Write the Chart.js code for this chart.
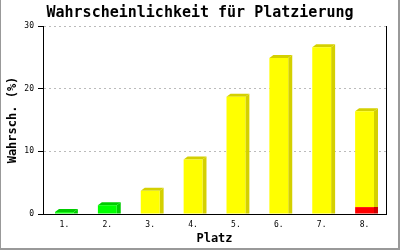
<!DOCTYPE html>
<html>
<head>
<meta charset="utf-8">
<script src="https://cdn.jsdelivr.net/npm/chart.js@4/dist/chart.umd.min.js"></script>
<style>
  html, body { margin: 0; padding: 0; background: #fff; }
  #wrap { width: 400px; height: 250px; position: relative; }
</style>
</head>
<body>
<div id="wrap"><canvas id="platz"></canvas></div>
<script>
// Daten
const plaetze = ["1.", "2.", "3.", "4.", "5.", "6.", "7.", "8."];
const rotAnteil = [0, 0, 0, 0, 0, 0, 0, 1.1];
const restAnteil = [0.3, 1.4, 3.7, 8.7, 18.7, 24.9, 26.6, 15.3];
const restFarben = ["#00ff00", "#00ff00", "#ffff00", "#ffff00", "#ffff00", "#ffff00", "#ffff00", "#ffff00"];
const yTicks = [0, 10, 20, 30];

const MONO = "'DejaVu Sans Mono', monospace";

function dunkler(c) {
  if (c == "#00ff00") return "#00cc00";
  if (c == "#ff0000") return "#cc0000";
  return "#d4d000";
}

// 3D Seiten und Deckel hinter den Balken
const dreiD = {
  id: "dreiD",
  beforeDatasetsDraw(chart) {
    const ctx = chart.ctx;
    const dx = 4, dy = 3;
    chart.data.datasets.forEach((ds, di) => {
      const meta = chart.getDatasetMeta(di);
      meta.data.forEach((bar, i) => {
        if (!ds.data[i]) return;
        const p = bar.getProps(["x", "y", "base", "width"], true);
        const l = p.x - p.width / 2, r = p.x + p.width / 2;
        const col = dunkler(Array.isArray(ds.backgroundColor) ? ds.backgroundColor[i] : ds.backgroundColor);
        ctx.save();
        ctx.fillStyle = col;
        ctx.beginPath();
        ctx.moveTo(r, p.y);
        ctx.lineTo(r + dx, p.y - dy);
        ctx.lineTo(r + dx, p.base);
        ctx.lineTo(r, p.base);
        ctx.closePath();
        ctx.fill();
        // Deckel nur beim obersten Teil
        const oben = di == chart.data.datasets.length - 1 || !chart.data.datasets[di + 1].data[i];
        if (oben) {
          ctx.beginPath();
          ctx.moveTo(l, p.y);
          ctx.lineTo(l + dx, p.y - dy);
          ctx.lineTo(r + dx, p.y - dy);
          ctx.lineTo(r, p.y);
          ctx.closePath();
          ctx.fill();
        }
        ctx.restore();
      });
    });
  },
  afterDraw(chart) {
    const ctx = chart.ctx;
    const a = chart.chartArea;
    ctx.save();
    // rechte Linie
    ctx.strokeStyle = "#000";
    ctx.lineWidth = 1;
    ctx.beginPath();
    ctx.moveTo(Math.round(a.right) + 0.5, a.top);
    ctx.lineTo(Math.round(a.right) + 0.5, a.bottom);
    ctx.stroke();
    // Titel
    ctx.fillStyle = "#000";
    ctx.font = "bold 15px " + MONO;
    ctx.textAlign = "center";
    ctx.textBaseline = "middle";
    ctx.fillText("Wahrscheinlichkeit für Platzierung", 200, 13);
    // Rahmen
    ctx.fillStyle = "#999";
    ctx.fillRect(0, 0, 1, 250);
    ctx.fillRect(398, 0, 2, 250);
    ctx.fillRect(0, 248, 400, 2);
    ctx.restore();
  }
};

const canvas = document.getElementById("platz");

new Chart(canvas, {
  type: "bar",
  data: {
    labels: plaetze,
    datasets: [
      {
        label: "rot",
        data: rotAnteil,
        backgroundColor: "#ff0000",
      },
      {
        label: "Wahrscheinlichkeit",
        data: restAnteil,
        backgroundColor: restFarben,
      },
    ],
  },
  plugins: [dreiD],
  options: {
    responsive: true,
    maintainAspectRatio: false,
    animation: false,
    events: [],
    layout: { padding: { top: 26, right: 14, left: 0, bottom: 0 } },
    datasets: { bar: { barPercentage: 0.88, categoryPercentage: 0.5, borderWidth: 0 } },
    plugins: {
      legend: { display: false },
      title: { display: false },
      tooltip: { enabled: false },
    },
    scales: {
      x: {
        stacked: true,
        afterFit: (s) => { s.height = 36; },
        grid: { display: false, drawTicks: false, tickLength: 0 },
        border: { display: true, color: "#000", width: 1 },
        ticks: { color: "#000", font: { family: MONO, size: 8 }, padding: 6, maxRotation: 0 },
        title: {
          display: true,
          text: "Platz",
          color: "#000",
          font: { family: MONO, size: 12, weight: "bold" },
          padding: { top: 0, bottom: 4 },
        },
      },
      y: {
        stacked: true,
        min: 0,
        max: 30,
        afterFit: (s) => { s.width = 43; },
        afterBuildTicks: (s) => { s.ticks = yTicks.map((v) => ({ value: v })); },
        grid: { color: "#bbbbbb", tickColor: "#000", tickLength: 5, tickBorderDash: [] },
        border: { display: true, color: "#000", width: 1, dash: [2, 3] },
        ticks: { color: "#000", font: { family: MONO, size: 8 }, padding: 4 },
        title: {
          display: true,
          text: "Wahrsch. (%)",
          color: "#000",
          font: { family: MONO, size: 12, weight: "bold" },
          padding: { top: 6, bottom: 0 },
        },
      },
    },
  },
});
</script>
</body>
</html>
